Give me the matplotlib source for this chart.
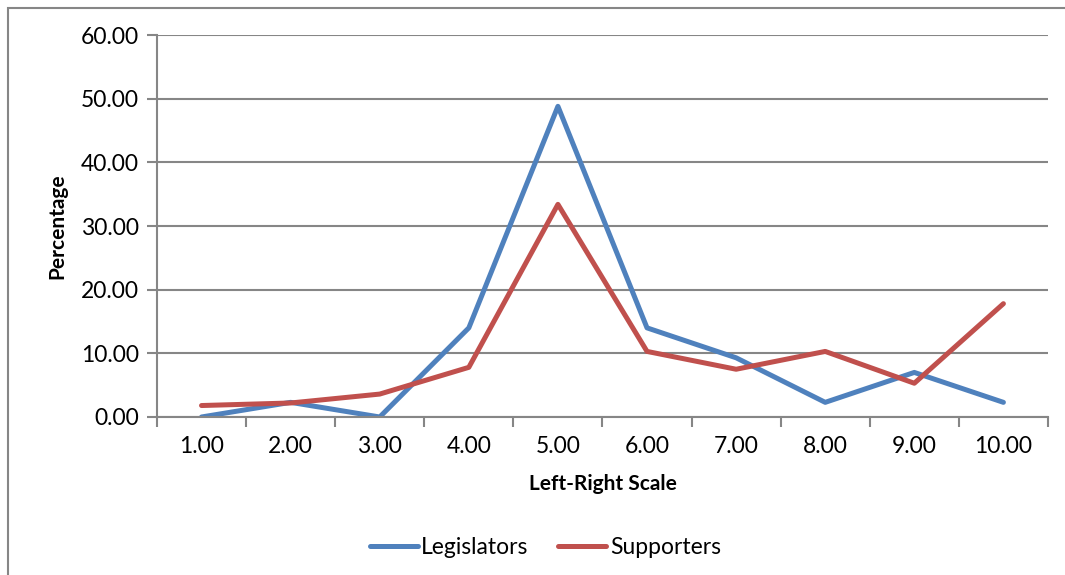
import matplotlib.pyplot as plt
from matplotlib.patches import Rectangle

# left-right self placement, percent of respondents
scale = ['1.00', '2.00', '3.00', '4.00', '5.00', '6.00', '7.00', '8.00', '9.00', '10.00']
legislators = [0.0, 2.3, 0.0, 14.0, 48.8, 14.0, 9.3, 2.3, 7.0, 2.3]
supporters = [1.8, 2.2, 3.6, 7.8, 33.4, 10.3, 7.5, 10.3, 5.3, 17.8]
y_ticks = [0, 10, 20, 30, 40, 50, 60]

plt.rcParams['font.family'] = ['Lato', 'DejaVu Sans']
grey = '#868686'

fig = plt.figure(figsize=(10.65, 5.75), dpi=100)
ax = fig.add_axes([0.1474, 0.2748, 0.8366, 0.6643])

x = list(range(1, len(scale) + 1))
ax.plot(x, legislators, color='#4F81BD', lw=3.6, label='Legislators', solid_capstyle='round')
ax.plot(x, supporters, color='#C0504D', lw=3.6, label='Supporters', solid_capstyle='round')

ax.set_xlim(0.5, len(scale) + 0.5)
ax.set_ylim(0, 60)
ax.set_yticks(y_ticks)
ax.set_yticklabels(['{:.2f}'.format(v) for v in y_ticks], fontsize=16.5)
ax.set_xticks(x)
ax.set_xticklabels(scale, fontsize=16.5)
ax.set_xticks([i + 0.5 for i in range(len(scale) + 1)], minor=True)
ax.tick_params(axis='x', which='major', length=0, pad=14)
ax.tick_params(axis='x', which='minor', length=7, color=grey, width=1.5)
ax.tick_params(axis='y', length=7, color=grey, width=1.5, pad=6)

ax.grid(axis='y', color=grey, lw=1.5)
ax.set_axisbelow(True)
for side in ['top', 'right']:
    ax.spines[side].set_visible(False)
for side in ['left', 'bottom']:
    ax.spines[side].set_color(grey)
    ax.spines[side].set_linewidth(1.5)

ax.set_xlabel('Left-Right Scale', fontsize=15, fontweight='bold', labelpad=12)
ax.set_ylabel('Percentage', fontsize=15, fontweight='bold', labelpad=10)

fig.legend(loc='center', bbox_to_anchor=(0.512, 0.048), ncol=2, frameon=False,
           fontsize=16.5, handlelength=2.1, handletextpad=0.15, columnspacing=1.3)

# chart frame
fig.patches.append(Rectangle((8 / 1065, -0.1), 1.2, 1.1 - 8 / 575, transform=fig.transFigure,
                             fill=False, edgecolor=grey, lw=1.5))

fig.savefig('out.png', dpi=100)
